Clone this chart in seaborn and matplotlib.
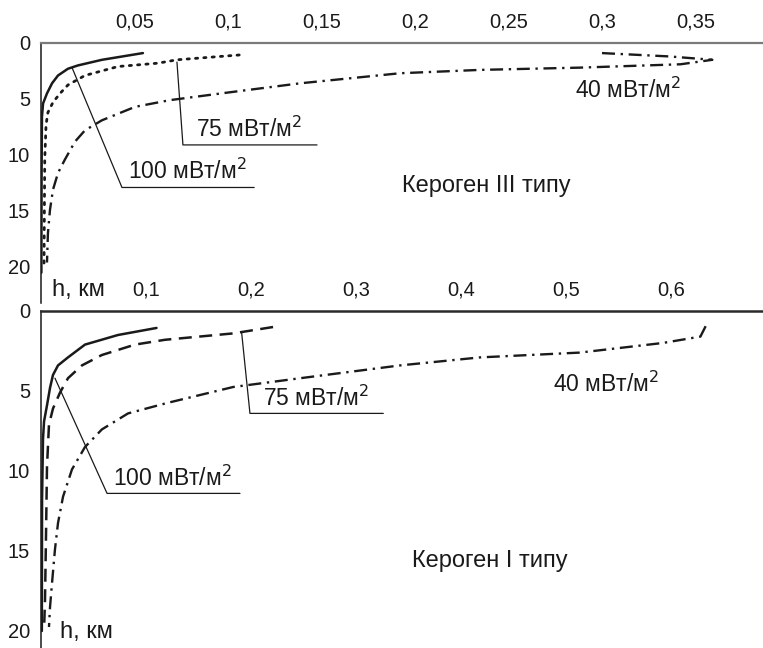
import matplotlib
matplotlib.use("Agg")
import matplotlib.pyplot as plt
import seaborn as sns
import pandas as pd

# ---- Kerogen III (top panel) ----
k3_x_100 = [0.0545, 0.0326, 0.0198, 0.0144, 0.0091, 0.0059, 0.0032, 0.0011, 0.0005, 0.0003, 0.0002]
k3_h_100 = [0.9, 1.5, 2.0, 2.3, 2.9, 3.6, 4.5, 5.4, 6.6, 12.0, 20.5]
k3_x_75 = [0.106, 0.0727, 0.0626, 0.0412, 0.0235, 0.0144, 0.0102, 0.0064, 0.0037, 0.0027, 0.002, 0.0016]
k3_h_75 = [1.07, 1.5, 1.8, 2.1, 2.9, 3.75, 4.5, 5.3, 6.2, 7.3, 10.4, 20.0]
k3_x_40 = [0.300, 0.318, 0.336, 0.359, 0.342, 0.288, 0.235, 0.192, 0.1385, 0.101,
           0.069, 0.0503, 0.0326, 0.0235, 0.0182, 0.0128, 0.0091, 0.0064, 0.0048, 0.0037, 0.0032]
k3_h_40 = [0.9, 1.05, 1.2, 1.5, 1.9, 2.2, 2.4, 2.7, 3.6, 4.4,
           5.1, 5.7, 6.9, 7.8, 8.8, 10.4, 11.6, 13.1, 14.9, 17.0, 19.6]

# ---- Kerogen I (bottom panel) ----
k1_x_100 = [0.110, 0.0733, 0.0419, 0.0257, 0.0162, 0.0114, 0.0086, 0.0057, 0.0029, 0.0019, 0.001, 0.0008]
k1_h_100 = [1.06, 1.5, 2.1, 2.9, 3.4, 4.0, 4.8, 5.9, 6.9, 8.0, 11.8, 20.0]
k1_x_75 = [0.221, 0.183, 0.118, 0.0895, 0.058, 0.039, 0.0257, 0.0181, 0.0114, 0.0076,
           0.0057, 0.0048, 0.0038, 0.0029]
k1_h_75 = [1.0, 1.4, 1.8, 2.1, 2.75, 3.4, 4.2, 5.1, 6.1, 7.1,
           9.75, 13.9, 18.1, 19.9]
k1_x_40 = [0.633, 0.628, 0.592, 0.513, 0.418, 0.342, 0.247, 0.183, 0.120, 0.0829,
           0.058, 0.0419, 0.0295, 0.021, 0.0162, 0.0133, 0.0105, 0.0086, 0.0076]
k1_h_40 = [0.95, 1.6, 2.0, 2.6, 2.9, 3.4, 4.2, 4.75, 5.75, 6.4,
           7.4, 8.5, 9.9, 11.6, 13.25, 14.9, 17.0, 18.5, 19.75]

top_xticks = [0.05, 0.1, 0.15, 0.2, 0.25, 0.3, 0.35]
top_xlabels = ["0,05", "0,1", "0,15", "0,2", "0,25", "0,3", "0,35"]
bot_xticks = [0.1, 0.2, 0.3, 0.4, 0.5, 0.6]
bot_xlabels = ["0,1", "0,2", "0,3", "0,4", "0,5", "0,6"]
yticks = [0, 5, 10, 15, 20]

sns.set_style("white")
plt.rcParams["font.family"] = ["Liberation Sans", "DejaVu Sans"]

INK = "#1a1a1a"
styles = {
    "100": dict(linestyle="-", lw=1.8),
    "75_dot": dict(linestyle=(0, (0.8, 2.2)), lw=2.0, dash_capstyle="round"),
    "75_dash": dict(linestyle=(0, (5.2, 3.0)), lw=1.8),
    "40": dict(linestyle=(0, (5.5, 2.4, 1.0, 2.4)), lw=1.7),
}

fig = plt.figure(figsize=(7.63, 6.48), dpi=100)
ax1 = fig.add_axes([41 / 763, 1 - 303 / 648, 722 / 763, 260 / 648])
ax2 = fig.add_axes([41 / 763, 0.0, 722 / 763, 337 / 648])


def curve(ax, xs, hs, key):
    df = pd.DataFrame({"x": xs, "h": hs})
    sns.lineplot(data=df, x="x", y="h", sort=False, estimator=None, ax=ax,
                 color=INK, **styles[key])


def leader(ax, pts, text, tx, ty):
    px, py = zip(*pts)
    ax.plot(px, py, color=INK, lw=0.9)
    ax.text(tx, ty, text, fontsize=16.5, color=INK, va="baseline")


curve(ax1, k3_x_100, k3_h_100, "100")
curve(ax1, k3_x_75, k3_h_75, "75_dot")
curve(ax1, k3_x_40, k3_h_40, "40")
leader(ax1, [(0.0727, 1.7), (0.0759, 9.1), (0.1476, 9.1)], "75 мВт/м$^2$", 0.083, 8.4)
leader(ax1, [(0.0166, 2.2), (0.0433, 12.9), (0.114, 12.9)], "100 мВт/м$^2$", 0.0465, 12.1)
ax1.text(0.2856, 4.9, "40 мВт/м$^2$", fontsize=16.5, color=INK, va="baseline")
ax1.text(0.193, 13.3, "Кероген III типу", fontsize=17, color=INK, va="baseline")
ax1.set_xlim(0, 722 / 1870)
ax1.set_ylim(260 / 11.2, 0)
ax1.set_xticks(top_xticks)
ax1.set_xticklabels(top_xlabels)

curve(ax2, k1_x_100, k1_h_100, "100")
curve(ax2, k1_x_75, k1_h_75, "75_dash")
curve(ax2, k1_x_40, k1_h_40, "40")
leader(ax2, [(0.191, 1.3), (0.199, 6.4), (0.326, 6.4)], "75 мВт/м$^2$", 0.211, 5.9)
leader(ax2, [(0.0133, 4.2), (0.0629, 11.4), (0.1895, 11.4)], "100 мВт/м$^2$", 0.0686, 10.9)
ax2.text(0.488, 5.05, "40 мВт/м$^2$", fontsize=16.5, color=INK, va="baseline")
ax2.text(0.353, 16.0, "Кероген I типу", fontsize=17, color=INK, va="baseline")
ax2.set_xlim(0, 722 / 1050)
ax2.set_ylim(337 / 16.0, 0)
ax2.set_xticks(bot_xticks)
ax2.set_xticklabels(bot_xlabels)

for ax, topcol, toplw in ((ax1, "#7a7a7a", 1.6), (ax2, "#2a2a2a", 1.8)):
    ax.set_facecolor("none")
    ax.xaxis.tick_top()
    ax.set_yticks(yticks)
    ax.tick_params(length=0, labelsize=14.5, colors=INK)
    ax.tick_params(axis="x", pad=8)
    ax.tick_params(axis="y", pad=8)
    ax.set_xlabel("")
    ax.set_ylabel("")
    ax.spines["right"].set_visible(False)
    ax.spines["bottom"].set_visible(False)
    ax.spines["left"].set_color(INK)
    ax.spines["left"].set_linewidth(1.1)
    ax.spines["top"].set_color(topcol)
    ax.spines["top"].set_linewidth(toplw)
    ax.grid(False)

ax1.text(0.015, 0.05, "h, км", transform=ax1.transAxes, fontsize=17, color=INK, va="center")
ax2.text(0.026, 0.047, "h, км", transform=ax2.transAxes, fontsize=17, color=INK, va="center")

fig.savefig("out.png", dpi=100, facecolor="white")
